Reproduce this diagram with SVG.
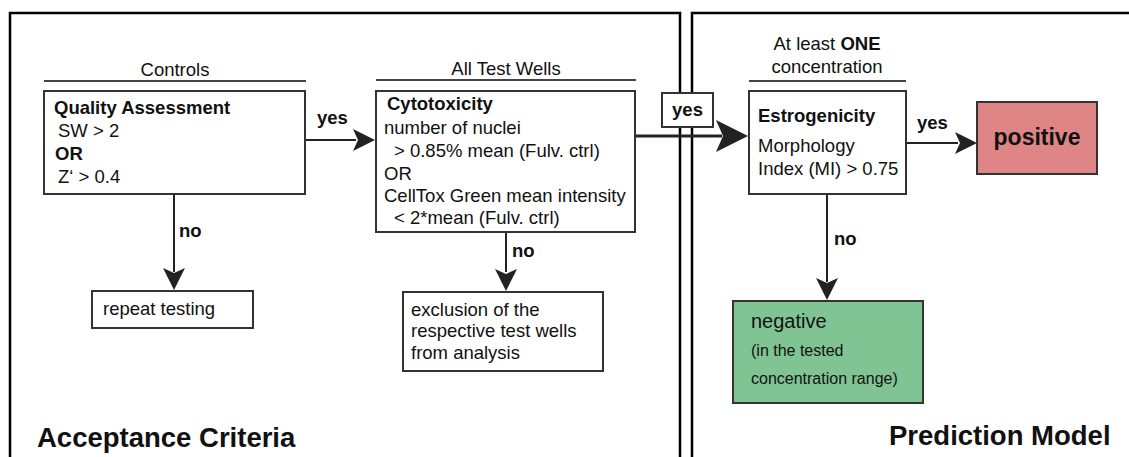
<svg xmlns="http://www.w3.org/2000/svg" width="1129" height="457" viewBox="0 0 1129 457">
<style>
text{font-family:"Liberation Sans",Arial,sans-serif;font-size:18.5px;fill:#111}
.b{font-weight:bold}
.box{fill:#fff;stroke:#333;stroke-width:2}
.frame{fill:none;stroke:#000;stroke-width:2.5}
.rule{stroke:#444;stroke-width:2}
.ln{stroke:#222;stroke-width:2;fill:none}
.thick{stroke:#222;stroke-width:3;fill:none}
.head{fill:#222}
</style>
<rect width="1129" height="457" fill="#fff"/>
<g id="panels">
<path class="frame" d="M10,457 V13 H680 V457"/>
<path class="frame" d="M692,457 V13 H1129"/>
</g>
<g id="connectors">
<line class="ln" x1="305" y1="140" x2="356" y2="140"/>
<polygon class="head" points="375,140 353,129 358,140 353,151"/>
<line class="thick" x1="635" y1="136" x2="722" y2="136"/>
<polygon class="head" points="748,136 716,120 723,136 716,152"/>
<line class="ln" x1="906" y1="143" x2="958" y2="143"/>
<polygon class="head" points="977,143 955,132 960,143 955,154"/>
<line class="ln" x1="174" y1="194" x2="174" y2="272"/>
<polygon class="head" points="174,290 163,268 174,273 185,268"/>
<line class="ln" x1="506" y1="232" x2="506" y2="272"/>
<polygon class="head" points="506,291 495,269 506,274 517,269"/>
<line class="ln" x1="827" y1="194" x2="827" y2="282"/>
<polygon class="head" points="827,300 816,278 827,283 838,278"/>
<text class="b" x="317" y="124">yes</text>
<text class="b" x="917" y="129">yes</text>
<text class="b" x="179" y="237">no</text>
<text class="b" x="512" y="257">no</text>
<text class="b" x="834" y="245">no</text>
</g>
<g id="yes-label">
<rect class="box" x="662" y="93" width="51" height="34"/>
<text class="b" x="687.5" y="116" text-anchor="middle">yes</text>
</g>
<g id="controls">
<text x="175" y="76" text-anchor="middle">Controls</text>
<line class="rule" x1="44" y1="81" x2="306" y2="81"/>
<rect class="box" x="44" y="91" width="261" height="103"/>
<text class="b" x="54" y="114">Quality Assessment</text>
<text x="58" y="137">SW &gt; 2</text>
<text class="b" x="55" y="160">OR</text>
<text x="58" y="183">Z‘ &gt; 0.4</text>
</g>
<g id="cytotoxicity">
<text x="506" y="75" text-anchor="middle">All Test Wells</text>
<line class="rule" x1="376" y1="80" x2="636" y2="80"/>
<rect class="box" x="376" y="91" width="259" height="141"/>
<text class="b" x="387" y="110">Cytotoxicity</text>
<text x="384" y="134">number of nuclei</text>
<text x="394" y="157">&gt; 0.85% mean (Fulv. ctrl)</text>
<text x="384" y="180">OR</text>
<text x="384" y="202">CellTox Green mean intensity</text>
<text x="394" y="224">&lt; 2*mean (Fulv. ctrl)</text>
</g>
<g id="repeat">
<rect class="box" x="92" y="291" width="161" height="37"/>
<text x="103" y="315">repeat testing</text>
</g>
<g id="exclusion">
<rect class="box" x="403" y="292" width="200" height="79"/>
<text x="411" y="316">exclusion of the</text>
<text x="411" y="337">respective test wells</text>
<text x="411" y="359">from analysis</text>
</g>
<g id="estrogenicity">
<text x="827" y="50" text-anchor="middle">At least <tspan class="b">ONE</tspan></text>
<text x="827" y="73" text-anchor="middle">concentration</text>
<line class="rule" x1="749" y1="81" x2="906" y2="81"/>
<rect class="box" x="749" y="91" width="157" height="103"/>
<text class="b" x="758" y="122">Estrogenicity</text>
<text x="758" y="152">Morphology</text>
<text x="758" y="175">Index (MI) &gt; 0.75</text>
</g>
<g id="positive">
<rect x="977" y="102" width="120" height="72" fill="#e08585" stroke="#333" stroke-width="2"/>
<text class="b" x="1037" y="145" text-anchor="middle" style="font-size:23px">positive</text>
</g>
<g id="negative">
<rect x="733" y="301" width="190" height="102" fill="#80c493" stroke="#333" stroke-width="2"/>
<text x="751" y="328" style="font-size:20px">negative</text>
<text x="751" y="356" style="font-size:16px">(in the tested</text>
<text x="751" y="384" style="font-size:16px">concentration range)</text>
</g>
<g id="titles">
<text class="b" x="37" y="447" style="font-size:27.5px">Acceptance Criteria</text>
<text class="b" x="889" y="445" style="font-size:27.5px">Prediction Model</text>
</g>
</svg>
